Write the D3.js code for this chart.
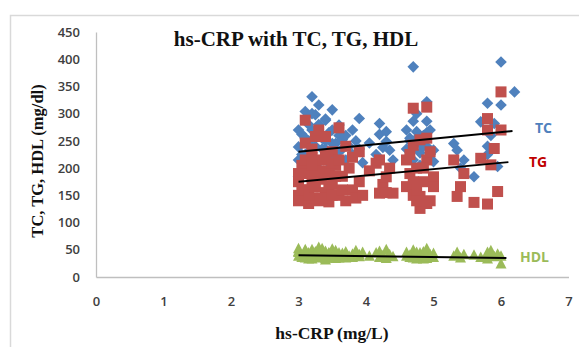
<!DOCTYPE html>
<html><head><meta charset="utf-8">
<script src="https://cdn.jsdelivr.net/npm/d3@7"></script>
<style>html,body{margin:0;padding:0;background:#fff}svg{display:block}</style>
</head><body>
<svg id="c" width="579" height="347"></svg>
<script>
// ---- data ----
const crp = [3.0,3.0,3.0,3.05,3.1,3.1,3.1,3.15,3.15,3.2,3.2,3.2,3.25,3.25,3.3,3.3,3.3,3.35,3.4,3.4,3.45,3.45,3.5,3.5,3.55,3.6,3.6,3.65,3.7,3.7,3.75,3.8,3.8,3.85,3.9,3.9,3.95,3.5,
  3.0,3.05,3.1,3.15,3.2,3.25,3.3,3.35,3.4,3.45,3.5,3.55,3.6,3.65,3.4,3.2,
  4.05,4.15,4.2,4.2,4.25,4.3,4.3,4.35,4.4,
  4.6,4.6,4.65,4.7,4.7,4.7,4.75,4.8,4.8,4.8,4.85,4.9,4.9,4.9,4.95,5.0,5.0,4.75,
  4.65,4.7,4.75,4.85,4.95,4.9,
  5.3,5.35,5.4,5.45,
  5.6,5.7,5.8,5.8,5.8,5.85,5.9,5.95,6.0,6.0,6.2];
const tc = [239,184,215,262,304,225,200,250,230,331,270,195,298,240,316,280,210,255,288,235,265,200,307,245,220,279,230,252,260,215,240,270,225,250,291,235,210,190,
  270,225,255,280,240,215,260,235,250,225,270,245,260,235,290,300,
  246,225,282,262,238,267,249,233,215,
  270,235,255,386,286,215,267,245,228,205,260,322,286,240,270,233,212,300,
  250,235,255,240,225,265,
  245,233,200,215,
  184,285,319,240,225,260,282,203,395,316,340];
const tg = [150,140,175,205,288,246,160,135,190,220,170,145,258,200,270,140,180,215,258,155,195,138,230,170,205,274,150,185,240,140,200,160,220,145,230,175,150,210,
  190,160,215,150,235,165,195,145,225,170,150,185,215,160,180,205,
  195,209,215,154,170,184,155,200,154,
  215,166,190,310,242,150,200,252,126,148,175,312,255,215,230,184,166,140,
  225,175,160,200,140,135,
  215,148,166,190,
  137,218,291,270,134,206,236,157,340,270,null];
const hdl = [45,38,52,40,42,35,48,36,44,40,33,50,38,46,35,41,54,37,34,47,43,36,38,51,34,44,37,40,35,46,38,42,36,48,37,41,45,39,
  47,36,50,33,42,39,45,52,31,44,37,48,35,43,40,37,
  38,44,36,47,39,50,34,41,37,
  38,45,36,42,35,49,33,44,37,36,46,40,34,52,38,43,36,39,
  40,36,45,33,41,37,
  38,45,35,41,
  40,36,45,33,38,48,37,42,24,38,null];
// trendline endpoints [x0, y0, x1, y1]
const trendTC  = [3.0, 230, 6.17, 268];
const trendTG  = [3.0, 175, 6.11, 211];
const trendHDL = [3.0, 40, 6.08, 35];
const xTicks = [0,1,2,3,4,5,6,7];
const yTicks = [0,50,100,150,200,250,300,350,400,450];
const title = "hs-CRP with TC, TG, HDL";
const xTitle = "hs-CRP (mg/L)";
const yTitle = "TC, TG, HDL (mg/dl)";
const seriesNames = ["TC","TG","HDL"];

// ---- chart ----
const svg = d3.select("#c");
const x = d3.scaleLinear().domain([0,7]).range([96,568.5]);
const y = d3.scaleLinear().domain([0,450]).range([277,32]);

// outer frame
svg.append("path").attr("d","M10.5,347 L10.5,15.5 L579,15.5").attr("fill","none").attr("stroke","#d9d9d9").attr("stroke-width",1.5);

// axes
const xAxis = svg.append("g").attr("transform","translate(0,277)")
  .call(d3.axisBottom(x).tickValues(xTicks).tickSize(0).tickPadding(20).tickFormat(d3.format("d")));
const yAxis = svg.append("g").attr("transform","translate(96,0)")
  .call(d3.axisLeft(y).tickValues(yTicks).tickSize(0).tickPadding(16).tickFormat(d3.format("d")));
[xAxis,yAxis].forEach(g=>{
  g.select(".domain").attr("stroke","#bfbfbf").attr("stroke-width",1.3);
  g.selectAll("text").attr("font-family","'Open Sans', sans-serif").attr("font-size",13).attr("fill","#404040").attr("font-weight",600);
});

const pts = crp.map((c,i)=>({c, tc:tc[i], tg:tg[i], hdl:hdl[i]}));

// TC diamonds
svg.append("g").selectAll("path").data(pts.filter(d=>d.tc!=null)).join("path")
  .attr("d", d=>{const cx=x(d.c), cy=y(d.tc), r=5.8; return `M${cx},${cy-r}L${cx+r},${cy}L${cx},${cy+r}L${cx-r},${cy}Z`;})
  .attr("fill","#4F81BD");
// TG squares
svg.append("g").selectAll("rect").data(pts.filter(d=>d.tg!=null)).join("rect")
  .attr("x", d=>x(d.c)-5.5).attr("y", d=>y(d.tg)-5.5).attr("width",11).attr("height",11)
  .attr("fill","#C0504D");
// HDL triangles
svg.append("g").selectAll("path").data(pts.filter(d=>d.hdl!=null)).join("path")
  .attr("d", d=>{const cx=x(d.c), cy=y(d.hdl); return `M${cx},${cy-6}L${cx+5.5},${cy+4.5}L${cx-5.5},${cy+4.5}Z`;})
  .attr("fill","#9BBB59");

// trendlines
[trendTC,trendTG,trendHDL].forEach(t=>{
  svg.append("line").attr("x1",x(t[0])).attr("y1",y(t[1])).attr("x2",x(t[2])).attr("y2",y(t[3]))
    .attr("stroke","#000").attr("stroke-width",2);
});

// series labels
const lab = [{t:seriesNames[0],x:535,y:133,c:"#4F81BD"},{t:seriesNames[1],x:529,y:167,c:"#C00000"},{t:seriesNames[2],x:520,y:262,c:"#9BBB59"}];
svg.append("g").selectAll("text").data(lab).join("text")
  .attr("x",d=>d.x).attr("y",d=>d.y).text(d=>d.t).attr("fill",d=>d.c)
  .attr("font-family","'Open Sans', sans-serif").attr("font-size",14).attr("font-weight",700);

// titles
svg.append("text").attr("x",296).attr("y",46).attr("text-anchor","middle").text(title)
  .attr("font-family","'Liberation Serif', serif").attr("font-weight",700).attr("font-size",21).attr("fill","#111");
svg.append("text").attr("x",332).attr("y",339).attr("text-anchor","middle").text(xTitle)
  .attr("font-family","'Liberation Serif', serif").attr("font-weight",700).attr("font-size",17.5).attr("fill","#111");
svg.append("text").attr("transform","translate(43,161) rotate(-90)").attr("text-anchor","middle").text(yTitle)
  .attr("font-family","'Liberation Serif', serif").attr("font-weight",700).attr("font-size",16.5).attr("fill","#111");
</script>
</body></html>
